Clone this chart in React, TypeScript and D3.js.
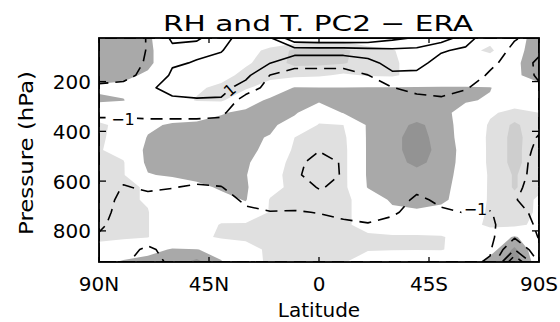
import React from 'react';
import * as d3 from 'd3';

const LATS = [90, 80, 70, 60, 50, 40, 30, 20, 10, 0, -10, -20, -30, -40, -50, -60, -70, -80, -90];
const PLEVS = [25, 75, 125, 175, 225, 275, 325, 375, 425, 475, 525, 575, 625, 675, 725, 775, 825, 875, 925];

// RH pattern (shading): <=-1 light, <=-2 lighter-dark, >=1 mid gray, >=2 dark gray
const RH_ROWS: number[][] = [
  [1.5, 1.5, 1.2, 0, 0, 0, 0, 0, 0, -0.5, -0.5, 0, 0, 0, 0, 0, -0.5, 0.5, 1.5],
  [1.6, 1.6, 1.3, 0, 0, 0, -0.5, -1.3, -2.2, -2.3, -2.2, -1.5, -1.1, -0.3, 0, -0.5, -1.3, 0.6, 1.6],
  [1.6, 1.6, 1.3, 0, 0, -0.3, -0.8, -1.6, -2.2, -2.2, -2.1, -1.5, -1.2, -0.5, 0, 0, 0, 0.8, 1.6],
  [1.4, 1.3, 0.8, 0, 0, -0.5, -1.4, -1.5, -1.4, -1.2, -0.8, -1.1, -1.2, -0.5, 0, 0, 0, 0.8, 1.5],
  [0.8, 0.7, 0.2, -0.2, -0.8, -1.3, -1.2, -0.2, 1.1, 1.05, 1.05, 1.1, 1.1, 1.1, 1.1, 1.1, 1.05, 0.3, 0.6],
  [1.2, 1.05, 0.2, -0.3, -1.1, -1.2, 0.2, 1.3, 1.4, 1.3, 1.3, 1.4, 1.4, 1.3, 1.2, 1.1, 0.9, -0.2, 0.0],
  [0, 0, 0, 0, 0.3, 0.9, 1.3, 1.5, 1.2, -0.3, 1.1, 2.0, 1.5, 1.4, 1.3, 0.6, -0.8, -1.4, -1.0],
  [-1.3, -0.5, 0.7, 1.2, 1.3, 1.4, 1.4, 1.3, 0.3, -1.1, -1.0, 1.2, 1.6, 2.2, 1.6, 0.4, -1.2, -2.2, -1.3],
  [-1.2, -0.5, 1.1, 1.4, 1.5, 1.5, 1.3, 0.9, -1.0, -1.5, -1.3, 1.2, 1.8, 2.3, 1.7, 0.4, -1.3, -2.3, -1.4],
  [-1.1, -0.5, 1.4, 1.5, 1.5, 1.5, 1.2, 0.8, -1.3, -1.5, -1.4, 1.2, 1.8, 2.3, 1.8, 0.5, -1.3, -2.3, -1.3],
  [-1.2, -1.1, 1.4, 1.6, 1.6, 1.5, 1.3, -0.3, -1.4, -1.5, -1.4, 1.2, 1.7, 2.2, 1.7, 0.5, -1.3, -2.3, -1.3],
  [-1.2, -1.1, 0.9, 1.2, 1.5, 1.4, 1.1, -0.6, -1.4, -1.5, -1.4, 1.2, 1.6, 1.7, 1.5, 0.5, -1.2, -2.1, -1.3],
  [-1.3, -1.2, -0.9, 0, 0.6, 1.2, 1.2, -0.5, -1.4, -1.5, -1.4, 1.1, 1.4, 1.6, 1.4, 0.4, -1.2, -2.1, -1.3],
  [-1.3, -1.2, -0.9, 0, 0, 0.5, 1.1, -1.1, -1.4, -1.5, -1.4, -0.2, 1.3, 1.5, 1.3, 0.3, -1.2, -1.7, -0.8],
  [-1.3, -1.2, -1.05, 0, 0, -0.2, 0.2, -1.1, -1.4, -1.4, -1.3, -0.4, 0.6, 0.8, 0.5, -0.2, -1.2, -1.6, -0.8],
  [-1.3, -1.2, -1.05, 0, -0.2, -1.1, -1.2, -1.3, -1.4, -1.3, -1.2, -0.6, 0, 0, -0.2, -0.6, -1.2, -1.4, -0.6],
  [-1.3, -1.2, -1.05, 0, -0.6, -1.2, -1.2, -1.3, -1.4, -1.3, -1.2, -1.2, -1.2, -1.2, -1.1, -0.5, -0.3, 1.2, -0.3],
  [-0.5, 0, 0.6, 1.1, 1.05, 0.5, -0.6, -1.2, -1.3, -1.3, -1.2, -1.1, -1.1, -1.1, -1.1, -0.3, 0.5, 2.2, 0],
  [0.5, 1.2, 1.4, 1.5, 2.3, 1.1, -0.5, -1.2, -1.2, -1.2, -1.1, -0.3, 0.5, 1.2, 0.6, 0.2, 1.5, 2.6, 0.3],
];

// T pattern (contour lines)
const T_ROWS: number[][] = [
  [-2, -2, -0.9, 1.3, 1.1, 0.6, 1.5, 2.8, 6.5, 6.8, 6.8, 6.5, 5.5, 4.8, 4, 2, -0.5, -0.9, -1.4],
  [-2, -2, -0.9, 0.6, 0.7, 0.9, 2.2, 2.5, 2.0, 2.0, 2.0, 2.3, 2.6, 2.5, 1.2, 0.6, -0.3, -1.3, -1.2],
  [-2, -1.8, -0.8, 0.8, 1.1, 1.6, 2.0, 1.05, -0.5, -0.5, -0.5, 0.3, 1.8, 1.6, 0.3, 0.2, -0.7, -1.6, -0.8],
  [-1.6, -1.3, -0.7, 1.3, 1.6, 2.0, 1.5, -1.05, -1.6, -1.6, -1.6, -1.05, 0.6, 0.6, 0, -0.2, -1.2, -1.8, -0.8],
  [-0.7, -0.7, 0.8, 1.4, 1.5, 1.6, 0.2, -1.8, -2.0, -2.0, -2.0, -1.8, -1.05, -0.5, -0.5, -0.9, -1.6, -1.9, -1.2],
  [0, 0, 0.8, 0.8, 0.9, 0.8, -2.0, -2.1, -2.2, -2.2, -2.2, -2.1, -1.8, -1.5, -1.2, -1.5, -1.9, -2.0, -1.5],
  [-0.6, -0.6, -0.4, -0.5, -0.5, -0.7, -2.2, -2.3, -2.3, -2.3, -2.3, -2.2, -2.1, -2.0, -1.8, -1.8, -2.0, -2.0, -1.5],
  [-1.6, -1.6, -1.6, -1.5, -1.5, -1.5, -2.3, -2.3, -2.4, -2.4, -2.4, -2.3, -2.2, -2.1, -2.0, -2.0, -2.0, -1.9, -1.3],
  [-2, -2, -2, -2, -2, -2, -2.3, -2.4, -2.5, -2.6, -2.5, -2.3, -2.2, -2.1, -2.0, -2.0, -2.0, -1.8, -0.9],
  [-2, -2, -2, -2.1, -2.2, -2.2, -2.3, -2.4, -2.6, -2.95, -2.6, -2.3, -2.2, -2.1, -2.0, -2.0, -2.0, -1.7, -0.7],
  [-2, -1.8, -2, -2, -2.1, -2.1, -2.2, -2.3, -2.7, -3.4, -2.9, -2.3, -2.2, -2.1, -2.0, -2.0, -1.9, -1.5, -0.6],
  [-2, -1.4, -1.6, -1.6, -1.6, -1.6, -2.0, -2.1, -2.8, -3.5, -2.9, -2.2, -2.2, -1.9, -1.9, -1.9, -1.8, -1.4, -0.6],
  [-2, -0.9, -1.2, -1.05, -0.8, -0.95, -1.7, -1.9, -2.2, -3.1, -2.7, -2.1, -2.1, -1.4, -1.7, -1.8, -1.6, -1.2, -0.6],
  [-1.9, -0.5, -0.6, -0.5, -0.4, -0.5, -1.2, -1.6, -1.6, -2.4, -2.3, -2.0, -1.8, -0.7, -1.3, -1.5, -1.4, -1.05, -0.6],
  [-1.7, -0.3, -0.3, -0.3, -0.3, -0.3, -0.8, -0.95, -0.9, -1.05, -1.4, -1.6, -1.2, -0.5, -0.8, -1.05, -0.95, -1.5, -0.6],
  [-1.3, -0.3, -0.3, -0.2, -0.2, -0.2, -0.5, -0.5, -0.5, -0.6, -0.7, -0.9, -0.6, -0.4, -0.5, -0.6, -0.7, -2.0, -0.7],
  [-0.8, -0.4, -0.5, -0.3, -0.2, -0.2, -0.4, -0.4, -0.4, -0.4, -0.4, -0.5, -0.4, -0.3, -0.4, -0.5, -0.6, -2.8, -0.9],
  [-0.5, -0.6, -1.2, -0.6, -0.3, -0.2, -0.3, -0.3, -0.3, -0.3, -0.3, -0.3, -0.3, -0.3, -0.4, -0.5, -0.8, -5, -1.6],
  [-0.4, -0.8, -1.6, -0.7, -0.4, -0.3, -0.3, -0.3, -0.3, -0.3, -0.2, -0.2, -0.2, -0.3, -0.5, -0.6, -1.2, -9, -2.8],
];

const T_LEVELS = [-9, -7, -5, -3, -1, 1, 3, 5];
const X_TICKS = [90, 45, 0, -45, -90];
const X_TICK_LABELS = ['90N', '45N', '0', '45S', '90S'];
const Y_TICKS = [200, 400, 600, 800];
const CONTOUR_LABELS = [
  { text: '\u22121', lat: 80.2, p: 350, angle: 0, w: 28 },
  { text: '1', lat: 36.6, p: 232, angle: -40, w: 11 },
  { text: '\u22121', lat: -64.0, p: 712, angle: 0, w: 28 },
];

const FONT = "'DejaVu Sans', 'Liberation Sans', sans-serif";

export default function App() {
  const W = 560, H = 322;
  const L = 99, R = 539, T = 38, B = 262;
  const x = d3.scaleLinear().domain([90, -90]).range([L, R]);
  const y = d3.scaleLinear().domain([25, 925]).range([T, B]);
  const nx = LATS.length, ny = PLEVS.length;
  const latAt = d3.scaleLinear().domain(d3.range(nx)).range(LATS);
  const pAt = d3.scaleLinear().domain(d3.range(ny)).range(PLEVS);
  const clampX = (v: number) => Math.max(0, Math.min(nx - 1, v));
  const clampY = (v: number) => Math.max(0, Math.min(ny - 1, v));

  // padded grid (one extra ring of very low values) so every shaded region is closed inside the grid
  const PAD = -1e6;
  const pad = (rows: number[][], sign: number) => {
    const out: number[] = [];
    for (let r = -1; r <= ny; r++) {
      for (let c = -1; c <= nx; c++) {
        if (r < 0 || r >= ny || c < 0 || c >= nx) out.push(PAD);
        else out.push(sign * rows[r][c]);
      }
    }
    return out;
  };
  const genP = d3.contours().size([nx + 2, ny + 2]).smooth(true);
  const gen = d3.contours().size([nx, ny]).smooth(true);

  const pathOf = (geom: any, off: number) =>
    geom.coordinates
      .map((poly: any) =>
        poly
          .map(
            (ring: any) =>
              'M' +
              ring
                .map(([a, b]: number[]) => {
                  const px = x(latAt(clampX(a - off)));
                  const py = y(pAt(clampY(b - off)));
                  return `${px.toFixed(2)},${py.toFixed(2)}`;
                })
                .join('L') +
              'Z'
          )
          .join('')
      )
      .join('');

  const rhPos = pad(RH_ROWS, 1);
  const rhNeg = pad(RH_ROWS, -1);
  const tt = T_ROWS.flat();

  const fills = [
    { d: pathOf(genP.contour(rhNeg, 1), 1.5), c: '#e0e0e0' },
    { d: pathOf(genP.contour(rhNeg, 2), 1.5), c: '#cecece' },
    { d: pathOf(genP.contour(rhPos, 1), 1.5), c: '#a9a9a9' },
    { d: pathOf(genP.contour(rhPos, 2), 1.5), c: '#939393' },
  ];
  const lines = T_LEVELS.map((lv) => ({ d: pathOf(gen.contour(tt, lv), 0.5), neg: lv < 0 }));

  const txt = { fontFamily: FONT, fill: '#000' } as const;

  return (
    <svg width={W} height={H} style={{ position: 'absolute', left: 0, top: 0, background: '#fff' }}>
      <defs>
        <clipPath id="plot">
          <rect x={L} y={T} width={R - L} height={B - T} />
        </clipPath>
        <mask id="lblmask">
          <rect x={0} y={0} width={W} height={H} fill="#fff" />
          {CONTOUR_LABELS.map((lb, i) => (
            <rect
              key={i}
              x={x(lb.lat) - lb.w / 2}
              y={y(lb.p) - 8}
              width={lb.w}
              height={16}
              fill="#000"
              transform={`rotate(${lb.angle},${x(lb.lat)},${y(lb.p)})`}
            />
          ))}
        </mask>
      </defs>
      <rect x={0} y={0} width={W} height={H} fill="#fff" />
      <g clipPath="url(#plot)">
        {fills.map((f, i) => (
          <path key={i} d={f.d} fill={f.c} fillRule="evenodd" stroke="none" />
        ))}
        <g mask="url(#lblmask)">
          {lines.map((l, i) => (
            <path
              key={i}
              d={l.d}
              fill="none"
              stroke="#000"
              strokeWidth={1.6}
              strokeDasharray={l.neg ? '12,7' : undefined}
              strokeLinejoin="round"
            />
          ))}
        </g>
      </g>
      {CONTOUR_LABELS.map((lb, i) => (
        <text
          key={i}
          {...txt}
          x={x(lb.lat)}
          y={y(lb.p) + 6}
          fontSize={16}
          textAnchor="middle"
          transform={`rotate(${lb.angle},${x(lb.lat)},${y(lb.p)})`}
        >
          {lb.text}
        </text>
      ))}
      <rect x={L} y={T} width={R - L} height={B - T} fill="none" stroke="#000" strokeWidth={1.8} />
      {X_TICKS.map((v, i) => (
        <g key={i}>
          <line x1={x(v)} x2={x(v)} y1={B} y2={B - 5} stroke="#000" strokeWidth={1.3} />
          <line x1={x(v)} x2={x(v)} y1={T} y2={T + 5} stroke="#000" strokeWidth={1.3} />
          <text {...txt} x={x(v)} y={291} fontSize={20} textAnchor="middle">
            {X_TICK_LABELS[i]}
          </text>
        </g>
      ))}
      {Y_TICKS.map((v, i) => (
        <g key={i}>
          <line x1={L} x2={L + 7} y1={y(v)} y2={y(v)} stroke="#000" strokeWidth={1.3} />
          <line x1={R} x2={R - 7} y1={y(v)} y2={y(v)} stroke="#000" strokeWidth={1.3} />
          <text {...txt} x={91} y={y(v) + 7.5} fontSize={20} textAnchor="end">
            {v}
          </text>
        </g>
      ))}
      <text {...txt} x={318} y={31} fontSize={21} textAnchor="middle" textLength={310} lengthAdjust="spacingAndGlyphs">
        RH and T. PC2 − ERA
      </text>
      <text {...txt} x={319} y={317} fontSize={20} textAnchor="middle">
        Latitude
      </text>
      <text
        {...txt}
        transform="translate(33,153) rotate(-90)"
        x={0}
        y={0}
        fontSize={20}
        textAnchor="middle"
        textLength={164}
        lengthAdjust="spacingAndGlyphs"
      >
        Pressure (hPa)
      </text>
    </svg>
  );
}
